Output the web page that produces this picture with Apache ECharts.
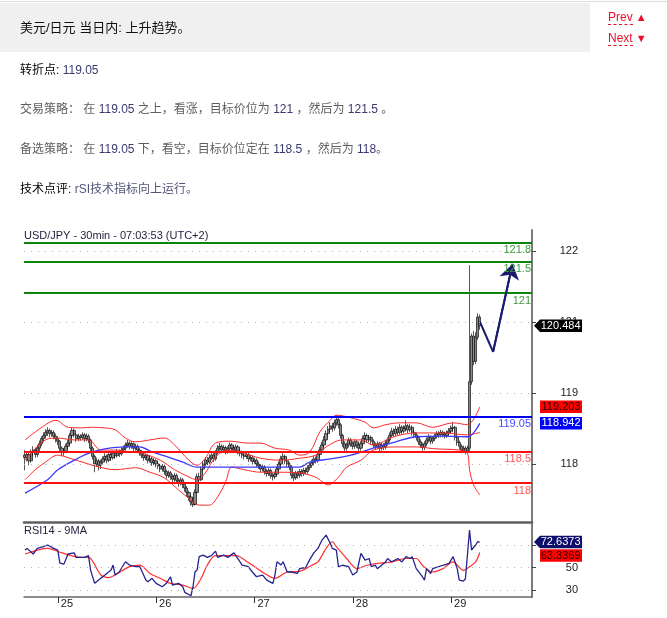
<!DOCTYPE html>
<html>
<head>
<meta charset="utf-8">
<script src="https://cdn.jsdelivr.net/npm/echarts@6/dist/echarts.min.js"></script>
<style>
  html, body { margin: 0; padding: 0; background: #fff; }
  body { width: 667px; height: 618px; overflow: hidden; position: relative;
         font-family: "Liberation Sans", Arial, "Noto Sans CJK SC", sans-serif; }
  #chart { position: absolute; left: 0; top: 0; width: 667px; height: 618px; }
  .topline { position: absolute; left: 0; top: 1px; width: 667px; height: 1px; background: #dcdcdc; }
  .head { position: absolute; left: 0; top: 3px; width: 590px; height: 49px; background: #f0f0f0; }
  .head span { position: absolute; left: 20px; top: 17px; font-size: 13px; line-height: 16px; color: #111; }
  .nav { position: absolute; left: 608px; font-size: 12px; line-height: 16px; color: #e8102a; }
  .nav u { text-decoration: none; border-bottom: 1px dashed #e8102a; }
  .nav i { font-style: normal; font-size: 11px; margin-left: 3px; }
  .t { position: absolute; left: 20px; font-size: 12px; line-height: 16px; white-space: nowrap; z-index: 2; }
  .k { color: #000; }
  .g { color: #5e5e5e; }
  .n { color: #3a3a6e; }
  .c { color: #55557a; }
</style>
</head>
<body>
<div id="chart"></div>
<div class="topline"></div>
<div class="head"><span>美元/日元 当日内: 上升趋势。</span></div>
<div class="nav" style="top:9px"><u>Prev</u><i>▲</i></div>
<div class="nav" style="top:30px"><u>Next</u><i>▼</i></div>
<div class="t" style="top:62px"><span class="k">转折点:</span> <span class="n">119.05</span></div>
<div class="t g" style="top:101px">交易策略： 在 <span class="n">119.05</span> 之上，看涨，目标价位为 <span class="n">121</span> ，然后为 <span class="n">121.5</span> 。</div>
<div class="t g" style="top:141px">备选策略： 在 <span class="n">119.05</span> 下，看空，目标价位定在 <span class="n">118.5</span> ，然后为 <span class="n">118</span>。</div>
<div class="t" style="top:181px"><span class="k">技术点评:</span> <span class="c">rSI技术指标向上运行。</span></div>

<script>
// ---- USD/JPY 30-minute bars: [open, close, low, high] ----
const candles = [
[118.44,118.40,118.20,118.52],[118.40,118.45,118.34,118.50],[118.45,118.35,118.28,118.49],[118.35,118.48,118.32,118.53],
[118.48,118.52,118.42,118.58],[118.52,118.45,118.40,118.56],[118.45,118.55,118.41,118.60],[118.55,118.62,118.50,118.67],
[118.62,118.70,118.58,118.74],[118.70,118.75,118.64,118.80],[118.75,118.80,118.70,118.85],[118.80,118.83,118.74,118.88],
[118.83,118.78,118.72,118.86],[118.78,118.80,118.73,118.84],[118.80,118.74,118.69,118.83],[118.74,118.70,118.64,118.78],
[118.70,118.66,118.60,118.74],[118.66,118.55,118.50,118.68],[118.55,118.48,118.42,118.58],[118.48,118.50,118.43,118.55],
[118.50,118.58,118.47,118.62],[118.58,118.63,118.54,118.68],[118.63,118.75,118.60,118.79],[118.75,118.83,118.71,118.87],
[118.83,118.76,118.72,118.86],[118.76,118.70,118.65,118.79],[118.70,118.74,118.66,118.78],[118.74,118.72,118.67,118.77],
[118.72,118.76,118.68,118.80],[118.76,118.70,118.65,118.79],[118.70,118.74,118.66,118.78],[118.74,118.68,118.63,118.77],
[118.68,118.55,118.50,118.70],[118.55,118.42,118.37,118.58],[118.42,118.30,118.17,118.45],[118.30,118.35,118.25,118.40],
[118.35,118.28,118.20,118.38],[118.28,118.33,118.22,118.37],[118.33,118.38,118.29,118.42],[118.38,118.42,118.33,118.47],
[118.42,118.36,118.31,118.45],[118.36,118.45,118.33,118.49],[118.45,118.40,118.35,118.48],[118.40,118.47,118.37,118.51],
[118.47,118.43,118.38,118.50],[118.43,118.50,118.40,118.54],[118.50,118.46,118.41,118.53],[118.46,118.52,118.43,118.56],
[118.52,118.55,118.48,118.59],[118.55,118.60,118.51,118.64],[118.60,118.63,118.56,118.68],[118.63,118.58,118.53,118.66],
[118.58,118.62,118.54,118.66],[118.62,118.55,118.50,118.64],[118.55,118.58,118.51,118.62],[118.58,118.52,118.47,118.61],
[118.52,118.48,118.43,118.55],[118.48,118.44,118.39,118.52],[118.44,118.40,118.35,118.48],[118.40,118.43,118.36,118.47],
[118.43,118.36,118.31,118.46],[118.36,118.38,118.32,118.42],[118.38,118.32,118.27,118.41],[118.32,118.35,118.28,118.39],
[118.35,118.30,118.25,118.38],[118.30,118.27,118.22,118.34],[118.27,118.22,118.17,118.30],[118.22,118.26,118.18,118.30],
[118.26,118.18,118.13,118.29],[118.18,118.12,118.07,118.21],[118.12,118.16,118.08,118.20],[118.16,118.10,118.05,118.19],
[118.10,118.06,118.01,118.14],[118.06,118.12,118.02,118.16],[118.12,118.04,117.99,118.15],[118.04,118.00,117.94,118.08],
[118.00,118.05,117.96,118.09],[118.05,117.98,117.92,118.08],[117.98,117.92,117.86,118.02],[117.92,117.85,117.79,117.95],
[117.85,117.78,117.72,117.88],[117.78,117.70,117.64,117.81],[117.70,117.66,117.62,117.76],[117.66,117.85,117.64,117.90],
[117.85,118.10,117.83,118.15],[118.10,118.05,118.00,118.16],[118.05,118.22,118.03,118.26],[118.22,118.30,118.18,118.35],
[118.30,118.36,118.26,118.41],[118.36,118.33,118.28,118.41],[118.33,118.40,118.30,118.45],[118.40,118.44,118.36,118.49],
[118.44,118.38,118.33,118.47],[118.38,118.48,118.35,118.52],[118.48,118.55,118.45,118.60],[118.55,118.58,118.51,118.63],
[118.58,118.52,118.47,118.61],[118.52,118.56,118.48,118.60],[118.56,118.50,118.45,118.59],[118.50,118.54,118.46,118.58],
[118.54,118.60,118.50,118.64],[118.60,118.55,118.50,118.63],[118.55,118.52,118.47,118.59],[118.52,118.57,118.48,118.61],
[118.57,118.50,118.45,118.60],[118.50,118.47,118.42,118.54],[118.47,118.44,118.39,118.51],[118.44,118.42,118.37,118.48],
[118.42,118.45,118.38,118.49],[118.45,118.38,118.33,118.48],[118.38,118.40,118.34,118.44],[118.40,118.34,118.29,118.43],
[118.34,118.36,118.30,118.40],[118.36,118.30,118.25,118.39],[118.30,118.27,118.22,118.34],[118.27,118.22,118.17,118.30],
[118.22,118.25,118.18,118.29],[118.25,118.18,118.13,118.28],[118.18,118.15,118.10,118.22],[118.15,118.20,118.11,118.24],
[118.20,118.12,118.07,118.23],[118.12,118.10,118.04,118.16],[118.10,118.14,118.06,118.18],[118.14,118.22,118.11,118.26],
[118.22,118.30,118.19,118.34],[118.30,118.38,118.27,118.43],[118.38,118.42,118.34,118.48],[118.42,118.35,118.30,118.45],
[118.35,118.30,118.25,118.39],[118.30,118.25,118.20,118.33],[118.25,118.12,118.07,118.28],[118.12,118.08,118.03,118.16],
[118.08,118.15,118.05,118.19],[118.15,118.12,118.07,118.19],[118.12,118.18,118.08,118.22],[118.18,118.15,118.10,118.22],
[118.15,118.20,118.11,118.24],[118.20,118.18,118.13,118.24],[118.18,118.24,118.14,118.28],[118.24,118.28,118.20,118.32],
[118.28,118.32,118.24,118.37],[118.32,118.38,118.28,118.43],[118.38,118.36,118.31,118.42],[118.36,118.45,118.32,118.50],
[118.45,118.52,118.41,118.57],[118.52,118.60,118.48,118.65],[118.60,118.68,118.56,118.74],[118.68,118.78,118.64,118.83],
[118.78,118.85,118.74,118.90],[118.85,118.90,118.80,118.96],[118.90,118.87,118.81,118.95],[118.87,118.95,118.83,119.00],
[118.95,119.00,118.90,119.07],[119.00,118.92,118.86,119.05],[118.92,118.75,118.70,118.95],[118.75,118.62,118.57,118.78],
[118.62,118.55,118.50,118.66],[118.55,118.60,118.51,118.64],[118.60,118.68,118.56,118.72],[118.68,118.62,118.57,118.71],
[118.62,118.58,118.53,118.66],[118.58,118.65,118.54,118.69],[118.65,118.60,118.55,118.68],[118.60,118.55,118.50,118.64],
[118.55,118.62,118.51,118.66],[118.62,118.70,118.58,118.75],[118.70,118.75,118.66,118.80],[118.75,118.68,118.63,118.78],
[118.68,118.72,118.64,118.76],[118.72,118.66,118.61,118.75],[118.66,118.60,118.55,118.69],[118.60,118.58,118.53,118.64],
[118.58,118.62,118.54,118.66],[118.62,118.55,118.50,118.65],[118.55,118.60,118.51,118.64],[118.60,118.57,118.52,118.63],
[118.57,118.63,118.53,118.67],[118.63,118.68,118.59,118.72],[118.68,118.75,118.64,118.80],[118.75,118.82,118.71,118.87],
[118.82,118.78,118.73,118.86],[118.78,118.85,118.74,118.90],[118.85,118.80,118.75,118.89],[118.80,118.88,118.76,118.93],
[118.88,118.82,118.77,118.91],[118.82,118.86,118.78,118.91],[118.86,118.90,118.82,118.99],[118.90,118.84,118.79,118.93],
[118.84,118.88,118.80,118.93],[118.88,118.80,118.75,118.91],[118.80,118.76,118.71,118.84],[118.76,118.72,118.67,118.80],
[118.72,118.65,118.60,118.75],[118.65,118.60,118.55,118.69],[118.60,118.56,118.51,118.64],[118.56,118.62,118.52,118.66],
[118.62,118.68,118.58,118.72],[118.68,118.72,118.64,118.77],[118.72,118.66,118.61,118.75],[118.66,118.70,118.62,118.74],
[118.70,118.74,118.66,118.78],[118.74,118.78,118.70,118.82],[118.78,118.76,118.71,118.82],[118.76,118.80,118.72,118.84],
[118.80,118.77,118.72,118.83],[118.77,118.75,118.70,118.81],[118.75,118.79,118.71,118.83],[118.79,118.82,118.75,118.87],
[118.82,118.86,118.78,118.91],[118.86,118.88,118.80,118.96],[118.88,118.72,118.67,118.90],[118.72,118.64,118.59,118.75],
[118.64,118.58,118.53,118.67],[118.58,118.52,118.47,118.61],[118.52,118.55,118.48,118.59],[118.55,118.50,118.45,118.58],
[118.50,118.55,118.46,118.59],[118.55,119.60,118.48,121.44],[119.60,120.32,119.55,120.36],[120.32,119.92,119.86,120.40],
[119.92,120.30,119.88,120.38],[120.30,120.62,120.26,120.68],[120.62,120.484,120.42,120.66]
];

// Overlay indicators: [bar index, value]
const bandUpper = [[0,118.68],[10,118.92],[15,118.99],[21,118.88],[27,118.87],[33,118.88],[39,118.87],[44,118.84],[49,118.71],[54,118.65],[61,118.68],[68,118.71],[73,118.60],[80,118.36],[84,118.28],[88,118.39],[93,118.63],[100,118.66],[109,118.63],[115,118.63],[122,118.55],[129,118.52],[134,118.44],[139,118.49],[144,118.81],[149,118.99],[152,119.07],[159,119.03],[166,118.96],[170,118.87],[176,118.92],[183,118.95],[191,118.95],[199,118.88],[209,118.95],[216,118.92],[222,119.203]];
const bandLower = [[0,118.05],[5,118.21],[10,118.33],[16,118.44],[22,118.39],[29,118.32],[34,118.27],[44,118.21],[54,118.24],[61,118.17],[68,118.08],[75,117.89],[81,117.73],[85,117.65],[90,117.65],[94,117.78],[98,118.02],[101,118.25],[107,118.21],[115,118.17],[125,118.17],[134,118.16],[142,118.09],[148,117.97],[153,118.09],[157,118.25],[164,118.36],[170,118.52],[181,118.57],[191,118.57],[200,118.54],[212,118.52],[216,118.47],[217,118.21],[219,117.97],[222,117.81]];
const bandMid = [[0,118.36],[10,118.68],[16,118.71],[24,118.68],[31,118.68],[37,118.52],[44,118.52],[51,118.49],[57,118.47],[66,118.36],[73,118.21],[81,118.08],[84,118.05],[88,118.16],[93,118.41],[99,118.52],[110,118.44],[115,118.39],[125,118.36],[134,118.39],[142,118.44],[147,118.57],[155,118.68],[164,118.68],[170,118.60],[180,118.73],[191,118.79],[204,118.79],[216,118.76],[222,118.80]];
const maLine = [[0,117.84],[11,118.05],[16,118.21],[27,118.41],[33,118.49],[39,118.54],[49,118.57],[56,118.57],[62,118.49],[70,118.41],[77,118.33],[84,118.25],[93,118.25],[105,118.25],[122,118.25],[134,118.25],[139,118.33],[149,118.38],[159,118.44],[170,118.55],[181,118.65],[191,118.73],[204,118.74],[216,118.73],[222,118.942]];

// Projected path drawn after the last bar
const projection = [[222,120.55],[228.5,120.07],[238,121.46]];

// Key levels
const resistanceLevels = [121.8, 121.5, 121];
const pivotLevels = [119.05];
const supportLevels = [118.5, 118];

// Price-axis ticks
const priceTickValues = [121.663, 120.542, 119.421, 118.30];
const priceTickLabels = ['122', '121', '119', '118'];

// RSI(14) and its 9-period average: [bar index, value]
const rsi = [[0,65.5],[1,67],[4,62],[6,67],[9,68.5],[11,70],[14,67],[16,65.5],[17,54],[19,53],[21,62],[24,63],[25,59],[29,59],[31,60.5],[32,47.7],[34,35.9],[37,40.4],[39,43.3],[42,47.7],[43,52.2],[44,43.3],[46,46],[49,55.1],[51,52.2],[54,50.8],[56,50.8],[59,38.8],[60,37.4],[62,40.4],[64,35.9],[67,32.9],[69,35.9],[71,41.8],[72,34.4],[75,35.9],[77,32.9],[78,27.9],[81,24.9],[82,32.9],[83,46.2],[84,47.7],[85,59.6],[87,61],[89,59],[91,60.5],[93,64.6],[94,59],[97,61],[99,59],[102,63],[104,57.6],[106,52.2],[109,50.8],[111,46],[113,41.8],[116,43.3],[118,38.8],[121,35.9],[122,43.3],[123,55.1],[125,52.2],[126,55.1],[128,46],[130,46],[133,44.7],[134,49],[137,50],[139,57],[141,63],[143,67],[145,74.4],[147,78.8],[149,71.5],[150,67],[152,65.5],[153,50.7],[155,52],[158,50.7],[160,43.3],[162,46],[164,62.6],[166,56.6],[168,58],[169,50.7],[171,52],[172,49],[174,52],[176,55],[177,58],[179,55],[182,58],[184,55],[186,59.6],[188,58],[189,59.6],[191,49],[194,41.8],[195,38.8],[196,49],[198,44.7],[199,49],[202,50.7],[204,52],[207,53.6],[209,59.6],[211,49],[212,38.8],[214,37.9],[215,40],[217,83.3],[218,65.5],[219,68],[220,70],[221,73],[222,72.6373]];
const rsiMa = [[0,62],[11,67],[18,63],[27,59],[31,59],[37,43.3],[41,41],[44,43.3],[51,50.8],[56,52.2],[61,44.7],[66,40.4],[71,35.9],[77,34.4],[82,31.4],[86,40.4],[89,52.2],[93,60.5],[103,60.5],[109,54.4],[117,44.7],[122,40.4],[128,46],[134,46.5],[140,52],[143,55],[147,67],[150,72.9],[152,68.5],[157,58],[162,49],[167,52],[172,53.6],[179,55],[186,58],[191,58],[194,52],[199,46],[204,49],[209,55],[214,47.5],[217,50.7],[220,55],[222,63.3369]];
const rsiTickValues = [30, 50, 70];

// Half-hour slots, starting 24th 16:00 (room left after the last bar)
const SLOTS = 248;
const categories = [];
for (let i = 0; i < SLOTS; i++) {
  const m = 16 * 60 + i * 30;
  const day = 24 + Math.floor(m / 1440);
  const hh = Math.floor((m % 1440) / 60), mm = m % 60;
  categories.push(day + ' ' + String(hh).padStart(2, '0') + ':' + String(mm).padStart(2, '0'));
}
const isDayStart = (idx, val) => String(val).endsWith(' 00:00');

const FONT = '"Liberation Sans", Arial, sans-serif';
const chart = echarts.init(document.getElementById('chart'));

const dotted = { color: '#b5b5b5', width: 1, type: [1, 6] };
function levelLine(v, lineColor, textColor) {
  return { yAxis: v, lineStyle: { color: lineColor, width: 2, type: 'solid' },
           label: { show: true, formatter: String(v), color: textColor } };
}
const nearestLabel = (v, vals, labels) => {
  let best = 0;
  vals.forEach((t, i) => { if (Math.abs(t - v) < Math.abs(vals[best] - v)) best = i; });
  return labels[best];
};

const option = {
  animation: false,
  textStyle: { fontFamily: FONT },
  title: [
    { text: 'USD/JPY - 30min - 07:03:53 (UTC+2)', left: 24, top: 230, padding: 0,
      textStyle: { fontSize: 11, fontWeight: 'normal', color: '#1e1e3a', fontFamily: FONT } },
    { text: 'RSI14 - 9MA', left: 24, top: 525, padding: 0,
      textStyle: { fontSize: 11, fontWeight: 'normal', color: '#1e1e3a', fontFamily: FONT } }
  ],
  grid: [
    { left: 24, width: 508, top: 230, height: 292 },
    { left: 24, width: 508, top: 523, height: 74 }
  ],
  xAxis: [
    { type: 'category', gridIndex: 0, data: categories, boundaryGap: true,
      axisLine: { show: true, onZero: false, lineStyle: { color: '#606060', width: 2.5 } },
      axisTick: { show: false }, axisLabel: { show: false }, splitLine: { show: false } },
    { type: 'category', gridIndex: 1, data: categories, boundaryGap: true,
      axisLine: { show: true, onZero: false, lineStyle: { color: '#666', width: 1.5 } },
      axisTick: { show: true, interval: isDayStart, alignWithLabel: true, length: 6, lineStyle: { color: '#333' } },
      axisLabel: { show: true, interval: isDayStart, formatter: v => v.split(' ')[0], align: 'left',
                   padding: [0, 0, 0, 3], margin: 1, fontSize: 11, color: '#222', fontFamily: FONT },
      splitLine: { show: false } },
    { type: 'value', gridIndex: 0, min: -0.5, max: SLOTS - 0.5, show: false },
    { type: 'value', gridIndex: 1, min: -0.5, max: SLOTS - 0.5, show: false }
  ],
  yAxis: [
    { type: 'value', gridIndex: 0, position: 'right', min: 117.384, max: 121.995, scale: true,
      axisLine: { show: true, onZero: false, lineStyle: { color: '#7a7a7a', width: 2 } },
      axisTick: { show: true, customValues: priceTickValues, length: 4, lineStyle: { color: '#444' } },
      axisLabel: { show: true, customValues: priceTickValues, align: 'right', margin: 46, fontSize: 11,
                   color: '#222', fontFamily: FONT,
                   formatter: v => nearestLabel(v, priceTickValues, priceTickLabels) },
      splitLine: { show: false } },
    { type: 'value', gridIndex: 1, position: 'right', min: 23.78, max: 89.56, scale: true,
      axisLine: { show: true, onZero: false, lineStyle: { color: '#7a7a7a', width: 2 } },
      axisTick: { show: true, customValues: rsiTickValues, length: 4, lineStyle: { color: '#444' } },
      axisLabel: { show: true, customValues: rsiTickValues, align: 'right', margin: 46, fontSize: 11,
                   color: '#222', fontFamily: FONT },
      splitLine: { show: false } }
  ],
  series: [
    { name: 'USD/JPY', type: 'candlestick', xAxisIndex: 0, yAxisIndex: 0, data: candles,
      barWidth: 2.8,
      itemStyle: { color: '#8a8a8a', color0: '#8a8a8a', borderColor: '#111', borderColor0: '#111', borderWidth: 0.7 },
      markLine: {
        silent: true, symbol: ['none', 'none'], animation: false,
        label: { position: 'insideEndBottom', distance: [1, 2], fontSize: 11, fontFamily: FONT },
        data: [].concat(
          priceTickValues.map(v => ({ yAxis: v, lineStyle: dotted, label: { show: false } })),
          resistanceLevels.map(v => levelLine(v, '#0a870a', '#3c9c3c')),
          pivotLevels.map(v => levelLine(v, '#0000f0', '#4848ff')),
          supportLevels.map(v => levelLine(v, '#ff1010', '#ff5454'))
        )
      } },
    { name: 'upper', type: 'line', xAxisIndex: 2, yAxisIndex: 0, data: bandUpper, symbol: 'none', smooth: 0.35,
      lineStyle: { color: '#ff2828', width: 1 }, z: 3 },
    { name: 'lower', type: 'line', xAxisIndex: 2, yAxisIndex: 0, data: bandLower, symbol: 'none', smooth: 0.35,
      lineStyle: { color: '#ff2828', width: 1 }, z: 3 },
    { name: 'mid', type: 'line', xAxisIndex: 2, yAxisIndex: 0, data: bandMid, symbol: 'none', smooth: 0.35,
      lineStyle: { color: '#ff2828', width: 1 }, z: 3 },
    { name: 'ma', type: 'line', xAxisIndex: 2, yAxisIndex: 0, data: maLine, symbol: 'none', smooth: 0.35,
      lineStyle: { color: '#3a3aff', width: 1.3 }, z: 3 },
    { name: 'projection', type: 'line', xAxisIndex: 2, yAxisIndex: 0, data: projection, symbol: 'none',
      lineStyle: { color: '#1a1a6e', width: 2 }, z: 4,
      markLine: { silent: true, symbol: ['none', 'arrow'], symbolSize: 15, animation: false,
                  lineStyle: { color: '#1a1a6e', width: 2, type: 'solid' }, label: { show: false },
                  data: [[{ coord: projection[1] }, { coord: projection[2] }]] } },
    { name: 'RSI14', type: 'line', xAxisIndex: 3, yAxisIndex: 1, data: rsi, symbol: 'none',
      lineStyle: { color: '#24248e', width: 1.3 }, z: 4,
      markLine: { silent: true, symbol: ['none', 'none'], animation: false, label: { show: false },
                  data: rsiTickValues.map(v => ({ yAxis: v, lineStyle: dotted })) } },
    { name: '9MA', type: 'line', xAxisIndex: 3, yAxisIndex: 1, data: rsiMa, symbol: 'none', smooth: 0.3,
      lineStyle: { color: '#ff3030', width: 1.2 }, z: 3 }
  ]
};
chart.setOption(option);

// Last-value tags on the right-hand scale
function tag(y, text, bg, fg, arrow) {
  const h = 12.5, x0 = 540, x1 = 582, tip = 534;
  const box = arrow
    ? { type: 'polygon', z: 100, shape: { points: [[tip, y], [x0, y - h / 2], [x1, y - h / 2], [x1, y + h / 2], [x0, y + h / 2]] }, style: { fill: bg } }
    : { type: 'rect', z: 100, shape: { x: x0, y: y - h / 2, width: x1 - x0, height: h }, style: { fill: bg } };
  return [box, { type: 'text', z: 101, style: { text, x: 580.5, y, fill: fg, fontSize: 11, fontFamily: FONT, align: 'right', verticalAlign: 'middle' } }];
}
const py = v => chart.convertToPixel({ yAxisIndex: 0 }, v);
const ry = v => chart.convertToPixel({ yAxisIndex: 1 }, v);
const lastClose = candles[candles.length - 1][1];
const lastUpper = bandUpper[bandUpper.length - 1][1];
const lastMa = maLine[maLine.length - 1][1];
const lastRsi = rsi[rsi.length - 1][1];
const lastRsiMa = rsiMa[rsiMa.length - 1][1];
const rsiTagY = ry(lastRsi);
const rsiMaTagY = Math.max(ry(lastRsiMa), rsiTagY + 13.5);
chart.setOption({
  graphic: [].concat(
    tag(py(lastClose), lastClose.toFixed(3), '#000', '#fff', true),
    tag(py(lastUpper), lastUpper.toFixed(3), '#ff0000', '#2a0000', false),
    tag(py(lastMa), lastMa.toFixed(3), '#0000ff', '#fff', false),
    tag(rsiTagY, lastRsi.toFixed(4), '#0c0c6a', '#fff', true),
    tag(rsiMaTagY, lastRsiMa.toFixed(4), '#ff0000', '#2a0000', false)
  )
});
</script>
</body>
</html>
